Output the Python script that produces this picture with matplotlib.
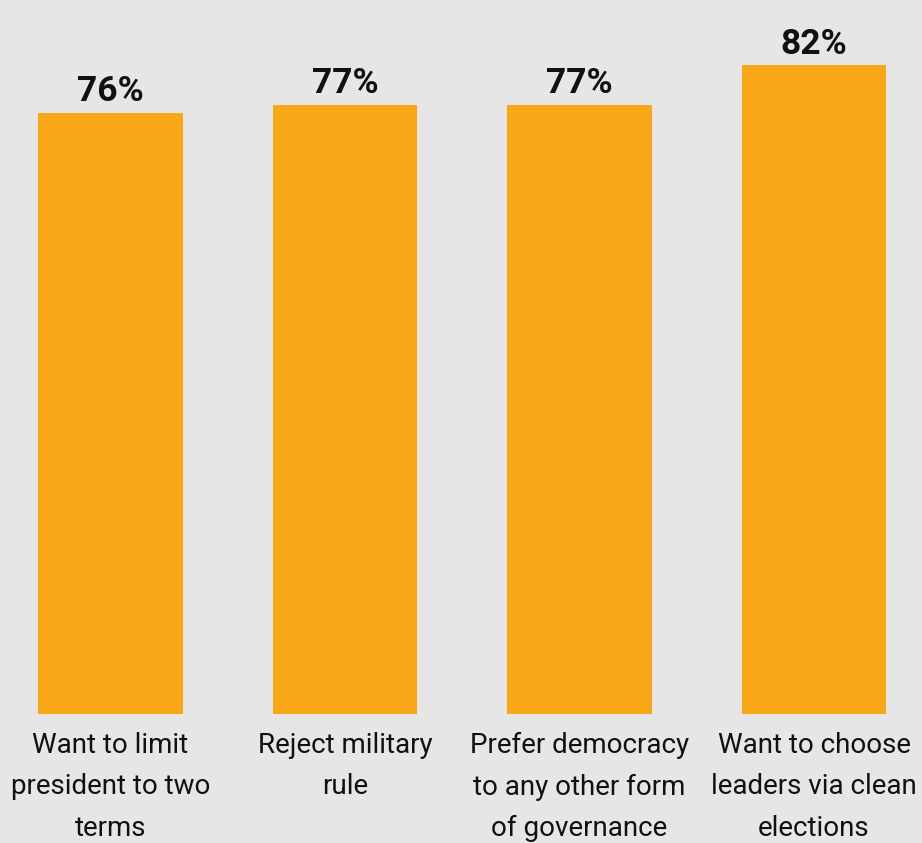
import matplotlib
matplotlib.use("Agg")
import matplotlib.pyplot as plt

categories = [
    "Want to limit\npresident to two\nterms",
    "Reject military\nrule",
    "Prefer democracy\nto any other form\nof governance",
    "Want to choose\nleaders via clean\nelections",
]
values = [76, 77, 77, 82]
value_labels = ["76%", "77%", "77%", "82%"]

bg = "#e6e6e6"
bar_color = "#f8a816"

plt.rcParams["font.family"] = ["Roboto", "DejaVu Sans"]

fig = plt.figure(figsize=(9.22, 8.43), dpi=100, facecolor=bg)
ax = fig.add_axes([0, 129 / 843, 1, 714 / 843])
ax.set_facecolor(bg)

x = list(range(len(values)))
ax.bar(x, values, width=0.618, color=bar_color)

for xi, v, lab in zip(x, values, value_labels):
    ax.annotate(lab, (xi, v), xytext=(0, 8.5), textcoords="offset points",
                ha="center", va="baseline", fontsize=25.5, fontweight="bold",
                color="#111111")

ax.set_xlim(-110.5 / 234.5, (922 - 110.5) / 234.5)
ax.set_ylim(0, 714 / 7.91)
ax.set_xticks(x)
ax.set_xticklabels(categories, fontsize=20, color="#111111", linespacing=1.68)
ax.tick_params(axis="x", length=0, pad=13)
ax.set_yticks([])
for s in ax.spines.values():
    s.set_visible(False)

fig.savefig("out.png", dpi=100, facecolor=bg)
